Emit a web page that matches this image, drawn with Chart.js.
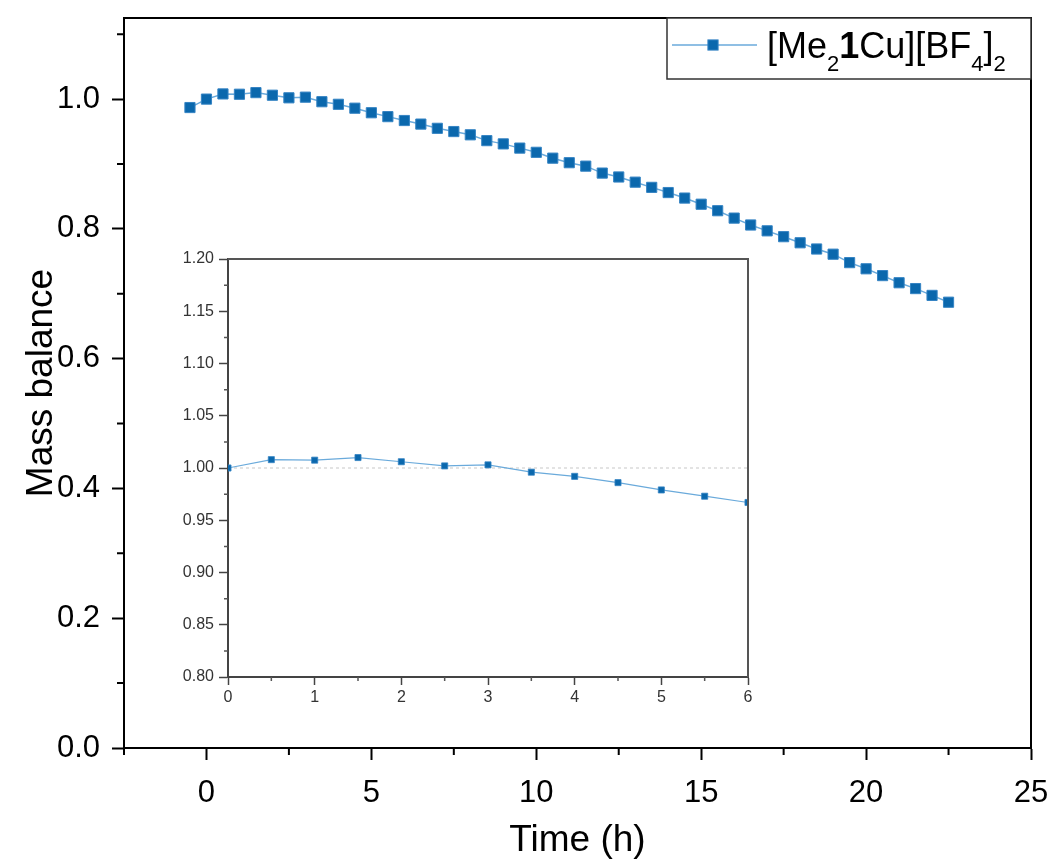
<!DOCTYPE html>
<html>
<head>
<meta charset="utf-8">
<script src="https://cdn.jsdelivr.net/npm/chart.js@4.4.1/dist/chart.umd.min.js"></script>
<style>
  html, body { margin: 0; padding: 0; background: #fff; }
  #wrap { position: relative; width: 1051px; height: 861px; }
  #main { position: absolute; left: 0; top: 0; }
  #inset { position: absolute; left: 170px; top: 250px; }
</style>
</head>
<body>
<div id="wrap">
  <canvas id="main" width="1051" height="861"></canvas>
  <canvas id="inset" width="600" height="470"></canvas>
</div>
<script>
// Time points (h) and measured mass balance
const hours = [-0.5, 0, 0.5, 1, 1.5, 2, 2.5, 3, 3.5, 4, 4.5, 5, 5.5, 6, 6.5, 7, 7.5, 8, 8.5, 9, 9.5, 10,
  10.5, 11, 11.5, 12, 12.5, 13, 13.5, 14, 14.5, 15, 15.5, 16, 16.5, 17, 17.5, 18, 18.5, 19, 19.5, 20,
  20.5, 21, 21.5, 22, 22.5];
const massBalance = [0.987, 1.000, 1.008, 1.0075, 1.010, 1.006, 1.002, 1.003, 0.996, 0.992, 0.986, 0.979,
  0.973, 0.967, 0.9615, 0.955, 0.950, 0.945, 0.936, 0.931, 0.9245, 0.918, 0.909, 0.902, 0.8967, 0.886,
  0.880, 0.872, 0.864, 0.856, 0.8475, 0.838, 0.828, 0.8166, 0.806, 0.797, 0.788, 0.7786, 0.769, 0.761,
  0.748, 0.7385, 0.728, 0.717, 0.708, 0.6975, 0.687];

// Series name: [Me₂1Cu][BF₄]₂ with bold ligand number
const seriesLabel = [
  { text: '[Me' }, { text: '2', sub: true }, { text: '1', bold: true },
  { text: 'Cu][BF' }, { text: '4', sub: true }, { text: ']' }, { text: '2', sub: true }
];

// Axis ticks
const mainXTicks = [0, 5, 10, 15, 20, 25];
const mainXMinorTicks = [-2.5, 2.5, 7.5, 12.5, 17.5, 22.5];
const mainYTicks = [0.0, 0.2, 0.4, 0.6, 0.8, 1.0];
const mainYMinorTicks = [0.1, 0.3, 0.5, 0.7, 0.9, 1.1];
const insetXTicks = [0, 1, 2, 3, 4, 5, 6];
const insetXMinorTicks = [0.5, 1.5, 2.5, 3.5, 4.5, 5.5];
const insetYTicks = [0.80, 0.85, 0.90, 0.95, 1.00, 1.05, 1.10, 1.15, 1.20];
const insetYMinorTicks = [0.825, 0.875, 0.925, 0.975, 1.025, 1.075, 1.125, 1.175];
const insetReferenceLevel = 1.00;

Chart.defaults.font.family = "'Liberation Sans', Arial, sans-serif";
Chart.defaults.color = '#000';

const MARKER = '#0b68ad';
const MARKER_EDGE = '#3584c4';
const LINE = '#6aaadb';

const mainPoints = hours.map((h, i) => ({ x: h, y: massBalance[i] }));
const insetPoints = mainPoints.filter(p => p.x >= insetXTicks[0] && p.x <= insetXTicks[insetXTicks.length - 1]);

function useTicks(values) {
  return scale => { scale.ticks = values.map(v => ({ value: v })); };
}

// Fixed axis thickness, no extra room reserved for overhanging labels
function fixedHeight(h) {
  return s => { s.height = h; s.paddingLeft = 0; s.paddingRight = 0; };
}
function fixedWidth(w) {
  return s => { s.width = w; s.paddingTop = 0; s.paddingBottom = 0; };
}

// Box frame around the plot area plus minor tick marks
function framePlugin(cfg) {
  return {
    id: 'frame',
    afterDraw(chart) {
      const { ctx, chartArea: a, scales: { x, y } } = chart;
      ctx.save();
      ctx.strokeStyle = cfg.color;
      ctx.lineWidth = cfg.width;
      ctx.beginPath();
      ctx.moveTo(a.left, a.top); ctx.lineTo(a.right, a.top); ctx.lineTo(a.right, a.bottom);
      ctx.stroke();
      ctx.lineWidth = cfg.minorWidth;
      ctx.beginPath();
      cfg.xMinor.forEach(v => {
        const px = x.getPixelForValue(v);
        ctx.moveTo(px, a.bottom); ctx.lineTo(px, a.bottom + cfg.minorLen);
      });
      cfg.yMinor.forEach(v => {
        const py = y.getPixelForValue(v);
        ctx.moveTo(a.left, py); ctx.lineTo(a.left - cfg.minorLen, py);
      });
      ctx.stroke();
      ctx.restore();
    }
  };
}

// Legend box with sub/bold formatted series name
const seriesKey = {
  id: 'seriesKey',
  afterDraw(chart) {
    const { ctx, chartArea: a } = chart;
    const ds = chart.data.datasets[0];
    const boxW = 364, boxH = 61;
    const bx = a.right - boxW, by = a.top;
    ctx.save();
    ctx.fillStyle = '#fff';
    ctx.fillRect(bx, by, boxW, boxH);
    ctx.strokeStyle = '#333';
    ctx.lineWidth = 1.5;
    ctx.strokeRect(bx, by, boxW, boxH);
    const cy = by + 27;
    ctx.strokeStyle = ds.borderColor;
    ctx.lineWidth = ds.borderWidth;
    ctx.beginPath(); ctx.moveTo(bx + 5, cy); ctx.lineTo(bx + 90, cy); ctx.stroke();
    ctx.fillStyle = ds.pointBackgroundColor;
    ctx.strokeStyle = ds.pointBorderColor;
    ctx.lineWidth = ds.pointBorderWidth;
    const s = ds.pointRadius * Math.SQRT1_2;
    ctx.fillRect(bx + 46 - s, cy - s, 2 * s, 2 * s);
    ctx.strokeRect(bx + 46 - s, cy - s, 2 * s, 2 * s);
    let tx = bx + 100;
    const base = by + 40;
    const size = 36;
    ctx.fillStyle = '#000';
    ctx.textBaseline = 'alphabetic';
    seriesLabel.forEach(part => {
      const fs = part.sub ? Math.round(size * 0.62) : size;
      ctx.font = (part.bold ? 'bold ' : '') + fs + "px 'Liberation Sans', Arial, sans-serif";
      const yy = part.sub ? base + 13 : base;
      ctx.fillText(part.text, tx, yy);
      tx += ctx.measureText(part.text).width;
    });
    ctx.restore();
  }
};

new Chart(document.getElementById('main'), {
  type: 'line',
  data: {
    datasets: [{
      label: '[Me2 1Cu][BF4]2',
      data: mainPoints,
      borderColor: LINE,
      borderWidth: 1.5,
      pointStyle: 'rect',
      pointRadius: 7.2,
      pointBackgroundColor: MARKER,
      pointBorderColor: MARKER_EDGE,
      pointBorderWidth: 1,
      tension: 0
    }]
  },
  options: {
    responsive: false,
    animation: false,
    devicePixelRatio: 1,
    layout: { padding: { top: 18, right: 20, left: 0, bottom: 0 } },
    plugins: { legend: { display: false }, tooltip: { enabled: false } },
    scales: {
      x: {
        type: 'linear',
        min: -2.5, max: 25,
        afterFit: fixedHeight(113),
        afterBuildTicks: useTicks(mainXTicks),
        grid: { drawOnChartArea: false, tickLength: 12, tickWidth: 2, tickColor: '#000' },
        border: { color: '#000', width: 2 },
        ticks: { font: { size: 31 }, color: '#000', padding: 15, maxRotation: 0, callback: v => String(v) },
        title: { display: true, text: 'Time (h)', font: { size: 37 }, color: '#000', padding: { top: 0, bottom: -2 } }
      },
      y: {
        type: 'linear',
        min: 0, max: 1.125,
        afterFit: fixedWidth(124),
        afterBuildTicks: useTicks(mainYTicks),
        grid: { drawOnChartArea: false, tickLength: 12, tickWidth: 2, tickColor: '#000' },
        border: { color: '#000', width: 2 },
        ticks: { font: { size: 31 }, color: '#000', padding: 12, callback: v => v.toFixed(1) },
        title: { display: true, text: 'Mass balance', font: { size: 37 }, color: '#000', padding: { top: 20, bottom: 0 } }
      }
    }
  },
  plugins: [framePlugin({ color: '#000', width: 2, minorWidth: 2, minorLen: 7, xMinor: mainXMinorTicks, yMinor: mainYMinorTicks }), seriesKey]
});

const insetBg = {
  id: 'insetBg',
  beforeDraw(chart) {
    const { ctx, chartArea: a } = chart;
    ctx.save();
    ctx.fillStyle = '#fff';
    ctx.fillRect(a.left, a.top, a.right - a.left, a.bottom - a.top);
    ctx.restore();
  }
};

new Chart(document.getElementById('inset'), {
  type: 'line',
  data: {
    datasets: [{
      data: insetPoints,
      borderColor: LINE,
      borderWidth: 1.2,
      pointStyle: 'rect',
      pointRadius: 4.3,
      pointBackgroundColor: MARKER,
      pointBorderColor: MARKER_EDGE,
      pointBorderWidth: 0.8,
      tension: 0,
      order: 1
    }, {
      data: [{ x: insetXTicks[0], y: insetReferenceLevel }, { x: insetXTicks[insetXTicks.length - 1], y: insetReferenceLevel }],
      borderColor: '#c8c8c8',
      borderWidth: 1,
      borderDash: [3, 3],
      pointRadius: 0,
      order: 2
    }]
  },
  options: {
    responsive: false,
    animation: false,
    devicePixelRatio: 1,
    layout: { padding: { top: 9, right: 22, left: 0, bottom: 0 } },
    plugins: { legend: { display: false }, tooltip: { enabled: false } },
    scales: {
      x: {
        type: 'linear',
        min: 0, max: 6,
        afterFit: fixedHeight(43),
        afterBuildTicks: useTicks(insetXTicks),
        grid: { drawOnChartArea: false, tickLength: 8, tickWidth: 1.5, tickColor: '#444' },
        border: { color: '#444', width: 2 },
        ticks: { font: { size: 16 }, color: '#333', padding: 3, maxRotation: 0, callback: v => String(v) }
      },
      y: {
        type: 'linear',
        min: 0.8, max: 1.2,
        afterFit: fixedWidth(58),
        afterBuildTicks: useTicks(insetYTicks),
        grid: { drawOnChartArea: false, tickLength: 9, tickWidth: 1.5, tickColor: '#444' },
        border: { color: '#444', width: 2 },
        ticks: { font: { size: 16 }, color: '#333', padding: 5, callback: v => v.toFixed(2) }
      }
    }
  },
  plugins: [insetBg, framePlugin({ color: '#555', width: 2, minorWidth: 1.5, minorLen: 4, xMinor: insetXMinorTicks, yMinor: insetYMinorTicks })]
});
</script>
</body>
</html>
